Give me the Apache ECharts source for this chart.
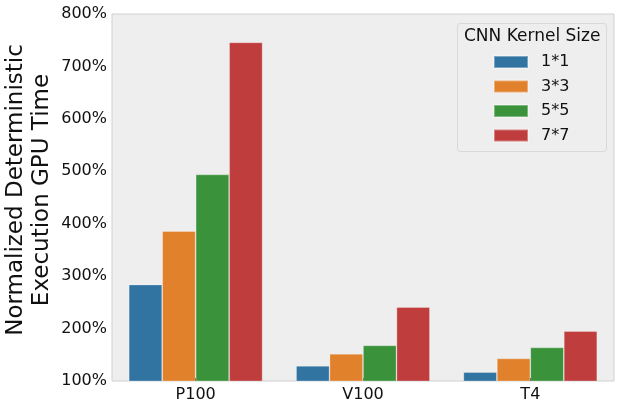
<!DOCTYPE html>
<html>
<head>
<meta charset="utf-8">
<script src="https://cdn.jsdelivr.net/npm/echarts@6/dist/echarts.min.js"></script>
<style>html,body{margin:0;padding:0;background:#fff}#c{width:623px;height:410px}</style>
</head>
<body>
<div id="c"></div>
<script>
const categories = ['P100', 'V100', 'T4'];
const seriesNames = ['1*1', '3*3', '5*5', '7*7'];
const s1x1 = [284, 129, 117];
const s3x3 = [386, 152, 143];
const s5x5 = [494, 168, 164];
const s7x7 = [746, 241, 195];
const colors = ['#3274a1', '#e1812c', '#3a923a', '#c03d3e'];
const yTicks = [100, 200, 300, 400, 500, 600, 700, 800];
const yTitle = 'Normalized Deterministic\nExecution GPU Time';
const legendTitle = 'CNN Kernel Size';
const allData = [s1x1, s3x3, s5x5, s7x7];
const FONT = 'DejaVu Sans';

const chart = echarts.init(document.getElementById('c'));
chart.setOption({
  animation: false,
  textStyle: { fontFamily: FONT },
  grid: { left: 112, right: 9, top: 14, bottom: 29, containLabel: false, outerBoundsMode: 'none', show: true, backgroundColor: '#eeeeee', borderColor: '#d0d0d0', borderWidth: 1 },
  xAxis: {
    type: 'category', data: categories,
    axisLine: { show: false },
    axisTick: { show: true, inside: true, length: 3, alignWithLabel: true, lineStyle: { color: '#222' } },
    axisLabel: { color: '#111', fontSize: 16, fontFamily: FONT, margin: 6 }
  },
  yAxis: {
    type: 'value', min: yTicks[0], max: yTicks[yTicks.length - 1], interval: 100,
    axisLine: { show: false }, axisTick: { show: false }, splitLine: { show: false },
    axisLabel: { color: '#111', fontSize: 16, fontFamily: FONT, margin: 5, formatter: v => v + '%' }
  },
  legend: {
    orient: 'vertical', left: 493, top: 54, padding: 0,
    itemWidth: 34, itemHeight: 12, itemGap: 8.5,
    data: seriesNames,
    textStyle: { fontSize: 16, color: '#111', fontFamily: FONT, padding: [0, 0, 0, 8] },
    icon: 'rect'
  },
  graphic: [
    { type: 'rect', shape: { x: 457.5, y: 23.5, width: 149, height: 128, r: 3 }, style: { fill: 'rgba(238,238,238,0.8)', stroke: '#d8d8d8', lineWidth: 1 }, z: 0 },
    { type: 'text', left: 464, top: 28, style: { text: legendTitle, font: '17px "DejaVu Sans"', fill: '#111' }, z: 5 },
    { type: 'text', x: 29.5, y: 190, rotation: Math.PI / 2, style: { text: yTitle, font: '23px "DejaVu Sans"', fill: '#111', align: 'center', verticalAlign: 'middle', textAlign: 'center', textVerticalAlign: 'middle', lineHeight: 26 }, z: 5 }
  ],
  series: seriesNames.map((n, i) => ({
    name: n, type: 'bar', data: allData[i],
    barGap: '0%', barCategoryGap: '20%',
    itemStyle: { color: colors[i], borderColor: 'rgba(255,255,255,0.35)', borderWidth: 0.8 },
    clip: true
  }))
});
</script>
</body>
</html>
